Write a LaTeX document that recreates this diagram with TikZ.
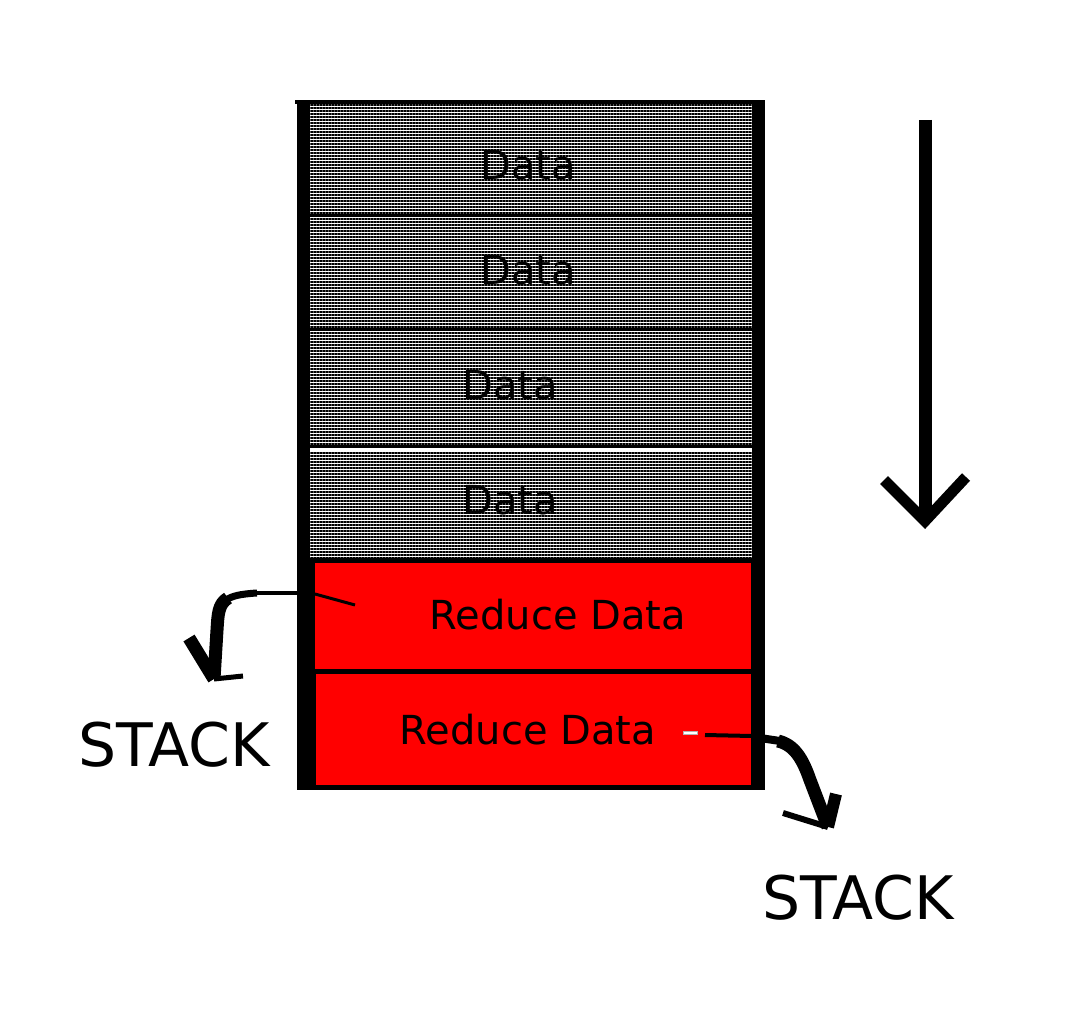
\documentclass[tikz,border=0pt]{standalone}
\usepackage{fontspec}
\setmainfont{DejaVu Sans}
\usetikzlibrary{patterns.meta}
\definecolor{cellred}{RGB}{255,0,0}
\begin{document}
\begin{tikzpicture}[x=1pt,y=-1pt,
  cell/.style={inner sep=0pt,outer sep=0pt,anchor=north west,minimum width=442pt},
  datacell/.style={cell,preaction={fill=white},
    pattern={Lines[angle=0,distance=3pt,line width=1.8pt]},pattern color=black},
  redcell/.style={cell,fill=cellred,minimum width=436pt},
  celltext/.style={font=\fontsize{40}{48}\selectfont,inner sep=0pt},
  stacktext/.style={font=\fontsize{60}{72}\selectfont,inner sep=0pt},
  ink/.style={draw=black,line cap=butt,line join=round},
]
\useasboundingbox (0,0) rectangle (1089,1011);

% frame of the column: a solid black block behind the cells
\fill[black] (297,100) rectangle (765,790);
\fill[black] (295,100) rectangle (300,104);

% stacked cells
\node[datacell,minimum height=110pt] (d1) at (310,104) {};
\node[datacell,minimum height=111pt] (d2) at (310,217) {};
\node[datacell,minimum height=114pt] (d3) at (310,331) {};
\node[datacell,minimum height=110pt] (d4) at (310,448) {};
\fill[white] (310,448) rectangle (752,451);
\node[redcell,minimum height=106pt] (r1) at (315,563) {};
\node[redcell,minimum height=111pt,minimum width=435pt] (r2) at (316,674) {};

% cell labels
\node[celltext] (t1) at (528,165) {Data};
\node[celltext] (t2) at (528,270) {Data};
\node[celltext] (t3) at (510,385) {Data};
\node[celltext] (t4) at (510,500) {Data};
\node[celltext] (t5) at (558,615) {Reduce Data};
\node[celltext] (t6) at (528,730) {Reduce Data};

% stack labels
\node[stacktext] (s1) at (174,745) {STACK};
\node[stacktext] (s2) at (858,898) {STACK};

% direction arrow
\coordinate (ftop) at (925,120);
\coordinate (fend) at (925,521);
\draw[ink,line width=13pt] (ftop) -- (fend);
\draw[ink,line width=11pt,line join=miter] (884,480) -- (fend) -- (966,477);

% left hand-drawn arrow to the stack
\coordinate (lstart) at (355,605);
\coordinate (lbend) at (257,593);
\coordinate (ltip) at (214,679);
\draw[ink,line width=3pt] (lstart) -- (315,594) -- (300,593);
\draw[ink,line width=4pt] (300,593) -- (lbend);
\draw[ink,line width=7pt] (lbend) .. controls (240,594) and (232,596) .. (226,600);
\draw[ink,line width=13pt] (228,598) .. controls (218,604) and (218,615) .. (217,630) -- (ltip);
\draw[ink,line width=13pt] (189,638) -- (ltip);
\draw[ink,line width=5pt] (ltip) -- (243,676);

% right hand-drawn arrow to the stack
\draw[draw=gray!60,fill=white,line width=0.8pt] (683,731) rectangle (697,734);
\coordinate (rstart) at (705,735);
\coordinate (rtip) at (828,827);
\draw[ink,line width=4pt] (rstart) -- (752,736);
\draw[ink,line width=8pt] (760,738) -- (780,741);
\draw[ink,line width=13pt] (778,741) .. controls (795,745) and (803,760) .. (810,780) -- (rtip);
\draw[ink,line width=6pt] (783,813) -- (rtip);
\draw[ink,line width=12pt] (rtip) -- (836,794);
\end{tikzpicture}
\end{document}
